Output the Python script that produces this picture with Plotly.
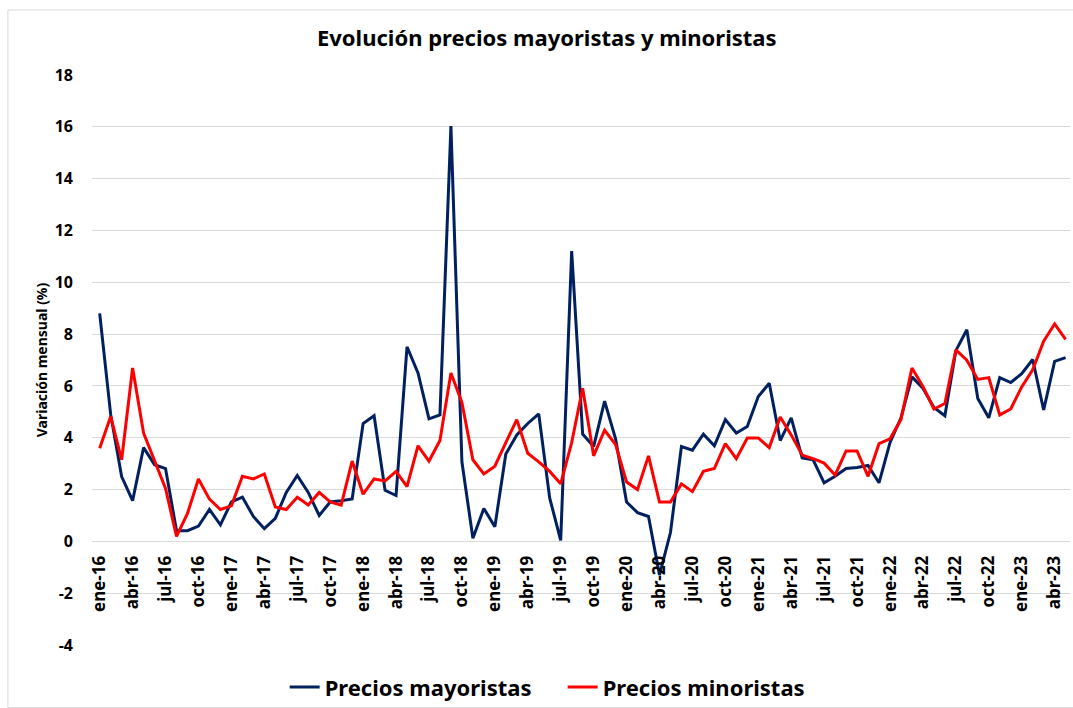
import plotly.graph_objects as go

meses = ["ene", "feb", "mar", "abr", "may", "jun", "jul", "ago", "sep", "oct", "nov", "dic"]
anios = ["16", "17", "18", "19", "20", "21", "22", "23"]
periodos = [f"{m}-{a}" for a in anios for m in meses][:89]

mayoristas = [
    8.8, 4.9, 2.5, 1.57, 3.62, 2.96, 2.81, 0.41, 0.41, 0.59, 1.23, 0.64,
    1.52, 1.71, 0.96, 0.49, 0.89, 1.89, 2.54, 1.89, 1.0, 1.52, 1.57, 1.64,
    4.55, 4.85, 1.97, 1.77, 7.51, 6.5, 4.73, 4.88, 16.03, 3.07, 0.12, 1.27,
    0.56, 3.37, 4.11, 4.55, 4.92, 1.67, 0.04, 11.2, 4.14, 3.66, 5.41, 3.96,
    1.52, 1.11, 0.96, -1.3, 0.34, 3.66, 3.52, 4.14, 3.69, 4.7, 4.18, 4.43,
    5.59, 6.1, 3.89, 4.77, 3.22, 3.15, 2.26, 2.51, 2.81, 2.85, 2.93, 2.26,
    3.81, 4.77, 6.35, 5.91, 5.17, 4.85, 7.36, 8.17, 5.51, 4.77, 6.32, 6.13,
    6.47, 7.02, 5.07, 6.95, 7.09,
]

minoristas = [
    3.59, 4.82, 3.15, 6.69, 4.18, 3.07, 2.04, 0.19, 1.08, 2.41, 1.63, 1.23,
    1.37, 2.51, 2.41, 2.6, 1.33, 1.23, 1.7, 1.4, 1.89, 1.52, 1.4, 3.1,
    1.82, 2.41, 2.33, 2.7, 2.11, 3.69, 3.1, 3.89, 6.5, 5.36, 3.15, 2.6,
    2.9, 3.81, 4.7, 3.4, 3.07, 2.7, 2.22, 3.81, 5.91, 3.3, 4.29, 3.74,
    2.29, 2.0, 3.3, 1.52, 1.52, 2.22, 1.92, 2.7, 2.81, 3.77, 3.19, 3.99,
    3.99, 3.62, 4.8, 4.11, 3.33, 3.19, 3.02, 2.56, 3.49, 3.49, 2.51, 3.77,
    3.96, 4.7, 6.69, 5.98, 5.11, 5.32, 7.39, 6.99, 6.25, 6.32, 4.88, 5.11,
    5.96, 6.62, 7.73, 8.39, 7.8,
]

y_ticks = list(range(-4, 19, 2))
x_tick_labels = periodos[::3]

FONT = "Noto Sans, Open Sans, sans-serif"

fig = go.Figure()
fig.add_trace(go.Scatter(x=periodos, y=mayoristas, mode="lines", name="<b>Precios mayoristas</b>",
                         line=dict(color="#002060", width=3)))
fig.add_trace(go.Scatter(x=periodos, y=minoristas, mode="lines", name="<b>Precios minoristas</b>",
                         line=dict(color="#FF0000", width=3)))

fig.update_layout(
    width=1073, height=708,
    margin=dict(l=92, r=3, t=75, b=63, autoexpand=False),
    paper_bgcolor="white", plot_bgcolor="white",
    font=dict(family=FONT, color="black"),
    title=dict(text="<b>Evolución precios mayoristas y minoristas</b>",
               x=0.465, xref="paper", xanchor="center", y=1 - 38 / 708, yref="container",
               yanchor="middle",
               font=dict(size=22, family=FONT, color="black")),
    showlegend=True,
    legend=dict(orientation="h", x=0.197, xanchor="left", y=-0.074, yanchor="middle",
                font=dict(size=22, family=FONT, color="black"), itemwidth=30,
                entrywidth=233, entrywidthmode="pixels",
                bgcolor="rgba(0,0,0,0)"),
    xaxis=dict(
        type="category", categoryorder="array", categoryarray=periodos,
        range=[-0.7, 88.4],
        tickmode="array", tickvals=x_tick_labels,
        ticktext=[f"<b>{t}</b>" for t in x_tick_labels],
        tickangle=-90, tickfont=dict(size=17, family=FONT, color="black"),
        showgrid=False, showline=False, zeroline=False,
        anchor="free", position=4 / 22,
        ticks="", ticklen=0, ticklabelstandoff=10, automargin=False,
    ),
    yaxis=dict(
        range=[-4, 18], tickmode="array", tickvals=y_ticks,
        ticktext=[f"<b>{v}</b>" for v in y_ticks],
        tickfont=dict(size=16, family=FONT, color="black"),
        showgrid=True, gridcolor="#d9d9d9", gridwidth=1,
        zeroline=False, showline=False, ticks="", ticklabelstandoff=18,
        automargin=False,
        title=dict(text="<b>Variación mensual (%)</b>", font=dict(size=14, family=FONT, color="black"),
                   standoff=3),
    ),
)

fig.add_shape(type="rect", xref="paper", yref="paper",
              x0=-0.086, x1=1.01, y0=-0.11, y1=1.114,
              line=dict(color="#d9d9d9", width=1), fillcolor="rgba(0,0,0,0)", layer="below")

fig.write_html("out.html", config={"displayModeBar": False},
               post_script="document.body.style.margin='0';document.body.style.padding='0';")
